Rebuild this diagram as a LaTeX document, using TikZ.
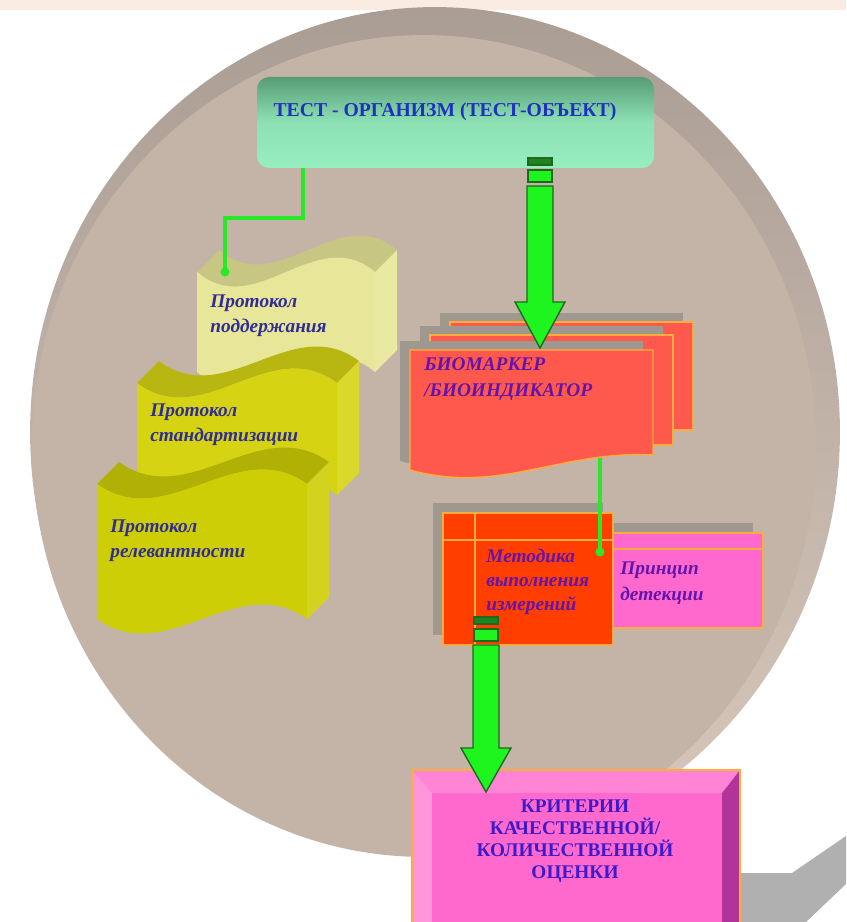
\documentclass[tikz,border=0pt]{standalone}
\usepackage{fontspec}
\setmainfont{Liberation Serif}

\definecolor{peach}{RGB}{250,236,226}
\definecolor{rimtop}{RGB}{170,157,148}
\definecolor{rimlow}{RGB}{216,200,188}
\definecolor{disc}{RGB}{196,180,167}
\definecolor{tealtop}{RGB}{88,156,118}
\definecolor{mint}{RGB}{150,238,192}
\definecolor{linkgreen}{RGB}{40,232,40}
\definecolor{arrowfill}{RGB}{30,245,30}
\definecolor{arrowline}{RGB}{30,105,30}
\definecolor{protpale}{RGB}{232,230,152}
\definecolor{protmid}{RGB}{214,212,18}
\definecolor{protlow}{RGB}{206,206,6}
\definecolor{redlayer}{RGB}{255,88,76}
\definecolor{redhot}{RGB}{255,62,0}
\definecolor{pinkbox}{RGB}{255,105,205}
\definecolor{orangeedge}{RGB}{255,172,60}
\definecolor{stackgray}{RGB}{158,152,142}
\definecolor{protblue}{RGB}{48,44,150}
\definecolor{biopurple}{RGB}{100,20,170}
\definecolor{testblue}{RGB}{30,50,190}
\definecolor{critblue}{RGB}{62,26,200}

\newcommand\wavebox[5]{%
\fill[#5!86!black] (#1,#2) .. controls ({#1+#3/3},{#2+50}) and ({#1+2*#3/3},{#2-50}) .. ({#1+#3},#2)
  -- ({#1+#3+22},{#2-22}) .. controls ({#1+2*#3/3+22},{#2-72}) and ({#1+#3/3+22},{#2+28}) .. ({#1+22},{#2-22}) -- cycle;
\fill[#5!90!white] ({#1+#3},#2) -- ({#1+#3+22},{#2-22}) -- ({#1+#3+22},{#2+#4-22}) -- ({#1+#3},{#2+#4}) -- cycle;
\fill[#5] (#1,#2) .. controls ({#1+#3/3},{#2+50}) and ({#1+2*#3/3},{#2-50}) .. ({#1+#3},#2)
  -- ({#1+#3},{#2+#4}) .. controls ({#1+2*#3/3},{#2+#4-50}) and ({#1+#3/3},{#2+#4+50}) .. (#1,{#2+#4}) -- cycle;
}

\newcommand\fatarrow[4]{%
\filldraw[arrowline, line width=0.6pt, fill=arrowline!80!arrowfill] ({#1-12},#2) rectangle ({#1+12},{#2+7});
\draw[fatbody] ({#1-12},{#2+12}) rectangle ({#1+12},{#2+24});
\draw[fatbody] ({#1-13},{#2+28}) -- ({#1+13},{#2+28}) -- ({#1+13},#3) -- ({#1+25},#3)
  -- (#1,#4) -- ({#1-25},#3) -- ({#1-13},#3) -- cycle;
}

\begin{document}
\begin{tikzpicture}[x=0.02cm, y=-0.02cm,
  fatbody/.style={fill=arrowfill, draw=arrowline, line width=0.8pt, line join=miter},
  link/.style={linkgreen, line width=2.2pt},
  layer/.style={fill=redlayer, draw=orangeedge, line width=0.8pt},
  seam/.style={orangeedge, line width=0.8pt},
  protext/.style={anchor=west, align=left, inner sep=0pt, text=protblue,
    font=\fontsize{11}{14}\selectfont\bfseries\itshape},
  biotext/.style={anchor=west, align=left, inner sep=0pt, text=biopurple,
    font=\fontsize{11}{14.5}\selectfont\bfseries\itshape},
  crittext/.style={align=center, inner sep=0pt, text=critblue,
    font=\fontsize{11}{12.5}\selectfont\bfseries}]

\useasboundingbox (0,0) rectangle (846,922);
\fill[peach] (0,0) rectangle (846,10);

\shade[top color=rimtop, bottom color=rimlow] (435,432) ellipse [x radius=8.1cm, y radius=8.5cm];
\fill[disc] (424,446) ellipse [x radius=7.84cm, y radius=8.22cm];

\shade[rounded corners=0.24cm, top color=tealtop, bottom color=mint, middle color=mint!85!tealtop]
  (257,77) rectangle (654,168);
\node[text=testblue, font=\fontsize{11.2}{13}\selectfont\bfseries] (test) at (445,112)
  {ТЕСТ - ОРГАНИЗМ (ТЕСТ-ОБЪЕКТ)};

\coordinate (testout) at (303,168);
\coordinate (podin) at (225,272);
\wavebox{197}{272}{178}{100}{protpale}
\draw[link] (testout) -- ++(0,50) -| (podin);
\fill[linkgreen] (podin) circle (0.09cm);
\node[protext] (podd) at (210,316) {Протокол\\поддержания};

\wavebox{137}{383}{200}{112}{protmid}
\node[protext] (stand) at (150,425) {Протокол\\стандартизации};

\wavebox{97}{484}{210}{135}{protlow}
\node[protext] (relev) at (110,541) {Протокол\\релевантности};

\fill[stackgray] (440,313) rectangle (683,421);
\draw[layer] (450,322) rectangle (693,430);
\fill[stackgray] (420,326) rectangle (663,436);
\draw[layer] (430,335) rectangle (673,445);
\fill[stackgray, shift={(-10,-9)}] (410,350) -- (653,350) -- (653,455)
  .. controls (560,450) and (500,495) .. (410,470) -- cycle;
\draw[layer] (410,350) -- (653,350) -- (653,455)
  .. controls (560,450) and (500,495) .. (410,470) -- cycle;
\node[biotext] (bio) at (424,379) {БИОМАРКЕР\\/БИОИНДИКАТОР};

\fatarrow{540}{158}{302}{348}

\fill[stackgray] (433,503) rectangle (603,635);
\fill[stackgray] (603,523) rectangle (753,618);
\draw[fill=pinkbox, draw=orangeedge, line width=0.8pt] (613,533) rectangle (763,628);
\draw[seam] (613,549) -- (763,549);
\draw[fill=redhot, draw=orangeedge, line width=0.8pt] (443,513) rectangle (613,645);
\draw[seam] (443,540) -- (613,540);
\draw[seam] (475,513) -- (475,645);
\node[biotext, font=\fontsize{11}{13.6}\selectfont\bfseries\itshape] (meth) at (486,582)
  {Методика\\выполнения\\измерений};
\node[biotext] (princ) at (620,583) {Принцип\\детекции};

\coordinate (bioout) at (600,458);
\coordinate (methin) at (600,552);
\draw[link] (bioout) -- (methin);
\fill[linkgreen] (methin) circle (0.09cm);

\fill[gray!62] (740,873) -- (792,873) -- (846,836) -- (846,884) -- (806,922) -- (740,922) -- cycle;
\fill[pinkbox!70!white] (412,770) -- (432,793) -- (432,922) -- (412,922) -- cycle;
\fill[pinkbox!82!white] (412,770) -- (740,770) -- (722,793) -- (432,793) -- cycle;
\fill[pinkbox!62!black!80!magenta] (740,770) -- (740,922) -- (722,922) -- (722,793) -- cycle;
\fill[pinkbox] (432,793) rectangle (722,922);
\draw[orangeedge, line width=0.8pt] (412,922) -- (412,770) -- (740,770) -- (740,922);
\node[crittext] (crit) at (575,841)
  {КРИТЕРИИ\\КАЧЕСТВЕННОЙ/\\КОЛИЧЕСТВЕННОЙ\\ОЦЕНКИ};

\fatarrow{486}{617}{748}{792}

\end{tikzpicture}
\end{document}
